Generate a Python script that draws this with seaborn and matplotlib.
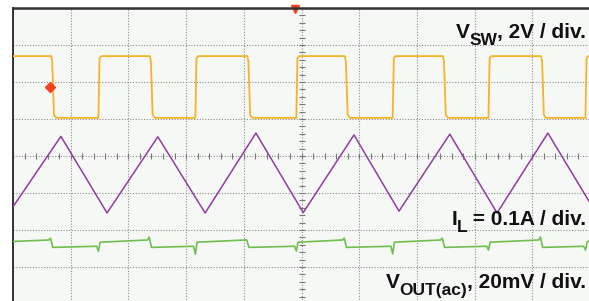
import numpy as np
import matplotlib
matplotlib.use("Agg")
import matplotlib.pyplot as plt
from matplotlib.transforms import offset_copy
import seaborn as sns

# all values are in screen divisions (x: 0..10, y: -4..4)
sw_fall = [0.66, 2.37, 4.06, 5.75, 7.45, 9.15]
sw_rise = [1.49, 3.17, 4.92, 6.59, 8.25, 9.93]
sw_high = 2.70
sw_low = 1.03

il_t = [-0.06, 0.83, 1.63, 2.51, 3.33, 4.21, 5.03, 5.91, 6.69, 7.57, 8.39, 9.27, 10.09]
il_v = [-1.51, 0.53, -1.54, 0.52, -1.54, 0.62, -1.53, 0.57, -1.49, 0.59, -1.54, 0.62, -1.50]

vout_hi_start = -2.33
vout_hi_end = -2.27
vout_lo = -2.47
vout_lo_end = -2.44
vout_fall_spike = [-2.22, -2.19, -2.27, -2.22, -2.22, -2.19]
vout_rise_spike = [-2.57, -2.65, -2.57, -2.65, -2.54, -2.54]

trig_t = 4.89
trig_level = 1.86
trig_level_t = 0.64

# (main letter, subscript, rest of text, baseline y)
labels = [
    ("V", "SW", ", 2V / div.", 3.19),
    ("I", "L", " = 0.1A / div.", -1.86),
    ("V", "OUT(ac)", ", 20mV / div.", -3.57),
]

C_SW = "#F6B328"
C_IL = "#8F3E9F"
C_VOUT = "#6FBF4F"
C_MARK = "#F0421E"


def build_switch():
    t, v = [0.0], [sw_high]
    events = sorted([(f, "f") for f in sw_fall] + [(r, "r") for r in sw_rise])
    state = sw_high
    for tt, kind in events:
        if kind == "f":
            t += [tt, tt + 0.02, tt + 0.05, tt + 0.09]
            v += [sw_high, sw_high - 0.15, sw_low + 0.08, sw_low]
            state = sw_low
        else:
            t += [tt - 0.01, tt + 0.01, tt + 0.04]
            v += [sw_low, sw_high - 0.06, sw_high]
            state = sw_high
    t.append(10.0)
    v.append(state)
    return t, v


def build_vout():
    t, v = [0.0], [vout_hi_start + 0.02]
    events = sorted([(f, "f", s) for f, s in zip(sw_fall, vout_fall_spike)] +
                    [(r, "r", s) for r, s in zip(sw_rise, vout_rise_spike)])
    last = vout_hi_end
    for tt, kind, spike in events:
        if kind == "f":
            t += [tt - 0.04, tt - 0.01, tt + 0.03]
            v += [vout_hi_end, spike, vout_lo]
            last = vout_lo_end
        else:
            t += [tt - 0.04, tt - 0.01, tt + 0.02]
            v += [vout_lo_end, spike, vout_hi_start]
            last = vout_hi_end
    t.append(10.0)
    v.append(last)
    return t, v


sns.set_style("white")
plt.rcParams['font.family'] = ['Liberation Sans', 'DejaVu Sans']

fig = plt.figure(figsize=(5.89, 3.01), dpi=100)
fig.patch.set_facecolor("white")
ax = fig.add_axes([13 / 589, -3 / 301, 577 / 589, 296 / 301])
ax.set_facecolor("#F6F8F6")
ax.set_xlim(0, 10)
ax.set_ylim(-4, 4)

# graticule
ax.set_xticks(range(0, 11))
ax.set_yticks(range(-4, 5))
ax.grid(True, color="#8c8c8c", ls=(0, (1, 1.5)), lw=0.8)
ax.tick_params(length=0, labelbottom=False, labelleft=False)
for side in ["right", "bottom"]:
    ax.spines[side].set_visible(False)
ax.spines["top"].set_color("#333333")
ax.spines["top"].set_linewidth(1.8)
ax.spines["left"].set_color("#333333")
ax.spines["left"].set_linewidth(1.4)

minor_x = np.arange(0, 10.001, 0.2)
minor_y = np.arange(-4, 4.001, 0.2)
ax.plot(minor_x, np.zeros_like(minor_x), ls="none", marker="|", ms=4,
        mew=0.8, color="#777777", zorder=2)
ax.plot(np.full_like(minor_y, 5.0), minor_y, ls="none", marker="_", ms=5,
        mew=0.8, color="#777777", zorder=2)

sw_t, sw_v = build_switch()
vo_t, vo_v = build_vout()
sns.lineplot(x=sw_t, y=sw_v, estimator=None, sort=False, color=C_SW,
             lw=1.3, ax=ax, zorder=3)
sns.lineplot(x=il_t, y=il_v, estimator=None, sort=False, color=C_IL,
             lw=1.1, ax=ax, zorder=3)
sns.lineplot(x=vo_t, y=vo_v, estimator=None, sort=False, color=C_VOUT,
             lw=1.2, ax=ax, zorder=3)

# trigger markers
ax.plot(trig_level_t, trig_level, marker="D", ms=5.5, color=C_MARK, zorder=4)
ax.plot(trig_t, 3.97, marker="v", ms=6, color=C_MARK, zorder=1.5, clip_on=False)
ax.plot(trig_t, -4.02, marker="^", ms=6, color=C_MARK, zorder=1.5, clip_on=False)

# channel labels, built right to left so the subscript can be larger than mathtext's
renderer = fig.canvas.get_renderer()
txt_kw = dict(va="baseline", ha="right", fontweight="bold", color="#111111", zorder=5)
for main, sub, rest, yy in labels:
    x0, y0 = ax.transData.transform((9.93, yy))
    t_rest = ax.text(9.93, yy, rest, fontsize=15, **txt_kw)
    left = t_rest.get_window_extent(renderer).x0
    t_sub = ax.text(9.93, yy, sub, fontsize=12.5,
                    transform=offset_copy(ax.transData, fig=fig, x=left - x0 + 0.5,
                                          y=-7, units="dots"), **txt_kw)
    left = t_sub.get_window_extent(renderer).x0
    ax.text(9.93, yy, main, fontsize=15,
            transform=offset_copy(ax.transData, fig=fig, x=left - x0 + 0.5,
                                  y=0, units="dots"), **txt_kw)

fig.savefig("out.png", dpi=100)
